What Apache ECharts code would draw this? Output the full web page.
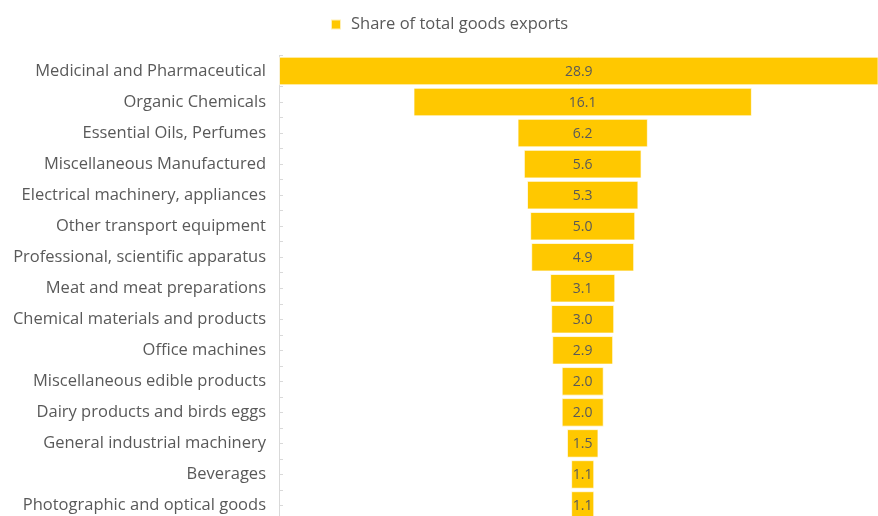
<!DOCTYPE html>
<html>
<head>
<meta charset="utf-8">
<script src="https://cdn.jsdelivr.net/npm/echarts@6/dist/echarts.min.js"></script>
<style>html,body{margin:0;padding:0;background:#fff;overflow:hidden;}#chart{width:878px;height:521px;}</style>
</head>
<body>
<div id="chart"></div>
<script>
// categories top to bottom
const categories=['Medicinal and Pharmaceutical','Organic Chemicals','Essential Oils, Perfumes','Miscellaneous Manufactured','Electrical machinery, appliances','Other transport equipment','Professional, scientific apparatus','Meat and meat preparations','Chemical materials and products','Office machines','Miscellaneous edible products','Dairy products and birds eggs','General industrial machinery','Beverages','Photographic and optical goods'];
const shares=[28.9,16.1,6.2,5.6,5.3,5.0,4.9,3.1,3.0,2.9,2.0,2.0,1.5,1.1,1.1];

const maxShare=Math.max(...shares);
// invisible offset so every bar is centred on the biggest one
const offsets=shares.map(v=>+((maxShare-v)/2).toFixed(3));

// the chart runs a few px past the bottom of the window, like the original
const chart=echarts.init(document.getElementById('chart'));
const font='"Open Sans", sans-serif';
chart.setOption({
  animation:false,
  backgroundColor:'#fff',
  legend:{top:11,left:325,itemWidth:10,itemHeight:10,itemGap:10,icon:'rect',
    data:['Share of total goods exports'],
    textStyle:{color:'#595959',fontSize:16.5,fontFamily:font,padding:[0,0,0,5]}},
  grid:{left:279,right:0,top:55.5,bottom:0,containLabel:false},
  xAxis:{type:'value',min:0,max:28.5,show:false},
  yAxis:[
    {type:'category',inverse:true,data:categories,
      axisLine:{lineStyle:{color:'#d9d9d9',width:1}},
      axisTick:{show:true,inside:true,length:4,alignWithLabel:true,lineStyle:{color:'#d9d9d9'}},
      axisLabel:{color:'#595959',fontSize:16.5,fontFamily:font,margin:13}},
    {type:'category',inverse:true,data:categories,position:'left',
      axisLine:{show:false},axisLabel:{show:false},
      axisTick:{show:true,inside:true,length:4,lineStyle:{color:'#d9d9d9'}}}
  ],
  series:[
    {name:'offset',type:'bar',stack:'s',data:offsets,itemStyle:{color:'transparent'},
      silent:true,barCategoryGap:'8%'},
    {name:'Share of total goods exports',type:'bar',stack:'s',data:shares,barCategoryGap:'8%',
      itemStyle:{color:'#ffc800',borderColor:'rgba(255,255,255,0.7)',borderWidth:1},
      label:{show:true,position:'inside',color:'#595959',fontSize:14,fontFamily:font,offset:[0,1],
        formatter:p=>p.value.toFixed(1)}}
  ]
});
</script>
</body>
</html>
